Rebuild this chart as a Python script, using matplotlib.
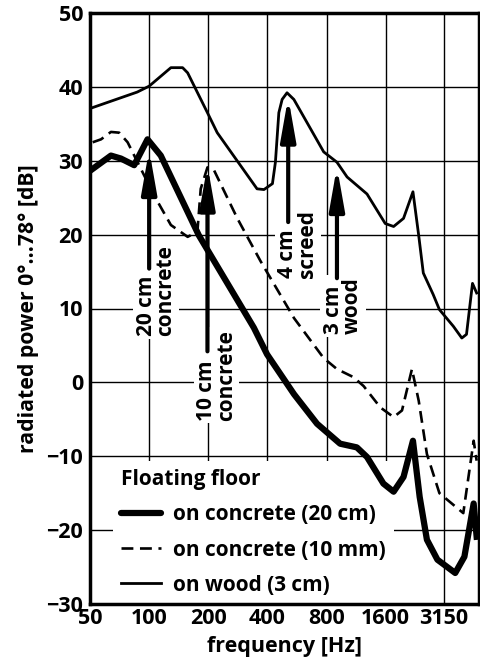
import numpy as np
import matplotlib
matplotlib.use("Agg")
import matplotlib.pyplot as plt
from matplotlib.lines import Line2D

plt.rcParams['font.family'] = ['Open Sans', 'DejaVu Sans']
plt.rcParams['font.weight'] = 'bold'

# on concrete (20 cm), thick line
f_c20 = [51.6, 63.9, 71.8, 83.9, 98.1, 114.6, 179, 341, 398, 546, 715, 937, 1140, 1284,
         1556, 1754, 1970, 2200, 2380, 2591, 2930, 3610, 4020, 4480, 4640]
db_c20 = [28.9, 30.7, 30.3, 29.4, 32.9, 30.7, 19.9, 7.4, 3.8, -1.6, -5.6, -8.3, -8.8, -10.1,
          -13.7, -14.8, -12.8, -7.9, -15.5, -21.3, -24.0, -25.8, -23.6, -16.4, -20.9]

# on concrete (10 mm), dashed line
f_c10 = [51.6, 56.9, 63.9, 70.4, 77.7, 90.8, 106, 129, 157, 176, 183, 198, 214, 281, 369,
         546, 772, 903, 1097, 1234, 1502, 1754, 1935, 2174, 2354, 2591, 3000, 3968, 4480, 4640]
db_c10 = [32.5, 32.9, 33.9, 33.8, 32.5, 28.9, 25.3, 21.3, 19.7, 20.4, 26.2, 29.1, 28.7, 22.2, 16.4,
          8.7, 3.3, 1.8, 0.7, -0.5, -3.4, -4.7, -3.8, 1.8, -2.5, -9.7, -15.0, -17.7, -7.9, -10.6]

# on wood (3 cm), thin line
f_wood = [51.6, 87, 100, 129, 148, 157, 198, 222, 354, 384, 424, 439, 457, 475, 503, 545, 773,
          903, 1017, 1284, 1590, 1754, 1970, 2200, 2353, 2484, 2788, 3000, 3530, 3900, 4120,
          4420, 4640]
db_wood = [37.2, 39.3, 40.1, 42.6, 42.6, 41.9, 36.5, 33.8, 26.2, 26.1, 26.9, 29.8, 36.5, 38.3,
           39.2, 38.3, 31.2, 29.8, 27.8, 25.5, 21.5, 21.1, 22.2, 25.8, 19.9, 14.8, 11.9, 9.85,
           7.6, 6.0, 6.5, 13.4, 12.1]

xticks = [50, 100, 200, 400, 800, 1600, 3150]
xticklabels = ["50", "100", "200", "400", "800", "1600", "3150"]
yticks = [-30, -20, -10, 0, 10, 20, 30, 40, 50]

# annotations: label, arrow x, arrow tail, arrow head, text x, text bottom
notes = [
    ("20 cm\nconcrete", 100, 15.4, 31.5, 108, 6.3),
    ("10 cm\nconcrete", 198, 4.2, 29.4, 220, -5.2),
    ("4 cm\nscreed", 510, 21.7, 38.6, 570, 14.1),
    ("3 cm\nwood", 903, 14.1, 29.2, 968, 6.5),
]

fig = plt.figure(figsize=(4.81, 6.66), dpi=100)
ax = fig.add_axes([90/481, 1 - 604/666, 389/481, 591/666])
ax.set_xscale('log')
ax.set_xlim(50, 4770)
ax.set_ylim(-30, 50)
ax.set_axisbelow(True)

ax.plot(f_c20, db_c20, color='k', lw=4.5, solid_joinstyle='round', zorder=2)
ax.plot(f_c10, db_c10, color='k', lw=1.9, linestyle=(0, (4.5, 2.5)), zorder=2)
ax.plot(f_wood, db_wood, color='k', lw=2.0, zorder=2)

ax.set_xticks(xticks)
ax.set_xticklabels(xticklabels)
ax.xaxis.set_minor_locator(matplotlib.ticker.NullLocator())
ax.set_yticks(yticks)
ax.tick_params(length=0, labelsize=15.5, pad=5)
ax.tick_params(axis='x', pad=3)
ax.grid(True, color='k', lw=1.0)
for s in ax.spines.values():
    s.set_linewidth(2.5)

ax.set_xlabel("frequency [Hz]", fontsize=15.5, fontweight='bold', labelpad=5)
ax.set_ylabel("radiated power 0°...78° [dB]", fontsize=15.3, fontweight='bold', labelpad=5)

for label, xa, y0, y1, xt, yt in notes:
    ax.text(xt, yt, label, rotation=90, ha='center', va='bottom', multialignment='left',
            fontsize=15, fontweight='bold', linespacing=0.9, zorder=3,
            bbox=dict(facecolor='white', edgecolor='none', pad=2))
    ax.annotate("", xy=(xa, y1), xytext=(xa, y0), zorder=4,
                arrowprops=dict(arrowstyle='-|>,head_length=1.7,head_width=0.3',
                                mutation_scale=15, lw=3, color='k',
                                shrinkA=0, shrinkB=0))

handles = [
    Line2D([], [], color='k', lw=4.5, solid_capstyle='round'),
    Line2D([], [], color='k', lw=1.9, linestyle=(0, (4.5, 2.5))),
    Line2D([], [], color='k', lw=2.0),
]
labels = ["on concrete (20 cm)", "on concrete (10 mm)", "on wood (3 cm)"]
leg = ax.legend(handles, labels, title="Floating floor", loc='lower left',
                bbox_to_anchor=(0.059, 0.0), fontsize=15, alignment='left',
                title_fontproperties={'weight': 'bold', 'size': 15},
                frameon=True, facecolor='white', edgecolor='none', framealpha=1,
                fancybox=False, handlelength=1.9, handletextpad=0.6,
                labelspacing=0.68, borderpad=0.4, borderaxespad=0)
leg.set_zorder(1)

fig.savefig("out.png", dpi=100)
